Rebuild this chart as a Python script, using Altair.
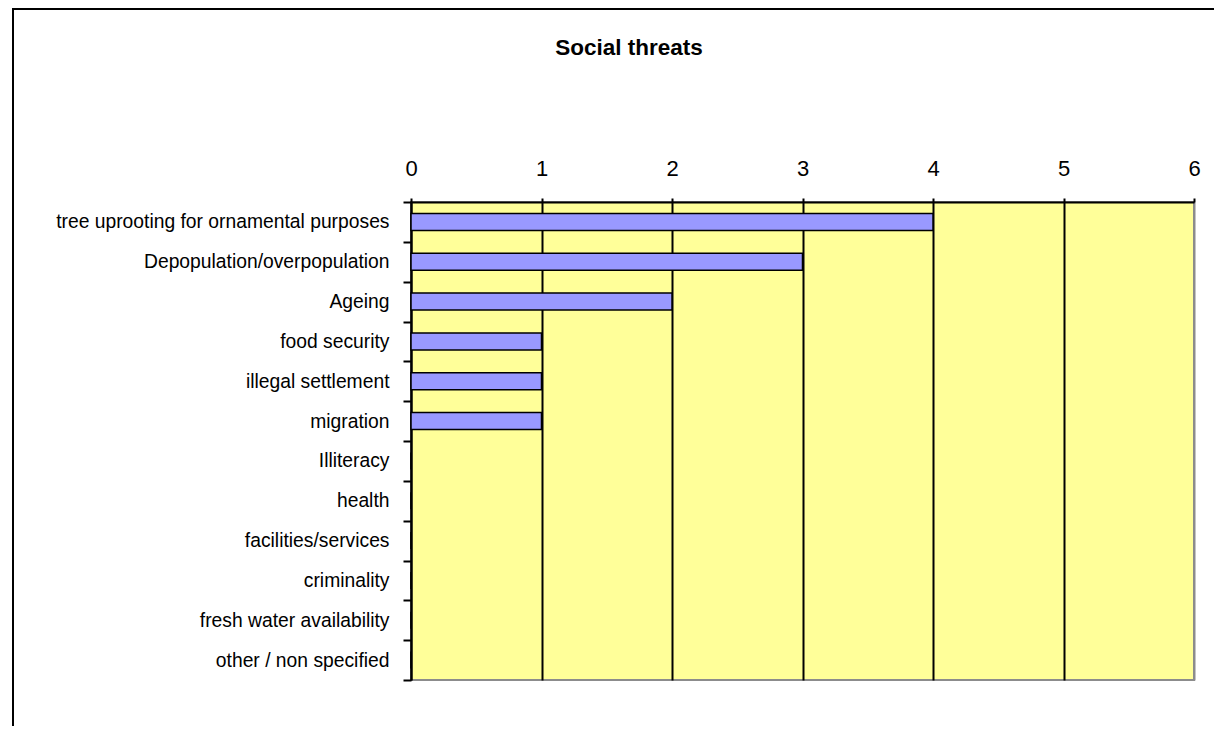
import altair as alt
import pandas as pd

categories = [
    "tree uprooting for ornamental purposes",
    "Depopulation/overpopulation",
    "Ageing",
    "food security",
    "illegal settlement",
    "migration",
    "Illiteracy",
    "health",
    "facilities/services",
    "criminality",
    "fresh water availability",
    "other / non specified",
]
values = [4, 3, 2, 1, 1, 1, 0, 0, 0, 0, 0, 0]
x_ticks = [0, 1, 2, 3, 4, 5, 6]
chart_title = "Social threats"

df = pd.DataFrame({"threat": categories, "count": values})

W, H = 783, 478
FONT = "Liberation Sans"

bars = alt.Chart(df).mark_bar(
    color="#9999FF", stroke="#000000", strokeWidth=1.5,
    height=alt.RelativeBandSize(0.425),
).encode(
    x=alt.X(
        "count:Q",
        scale=alt.Scale(domain=[0, 6], nice=False),
        axis=alt.Axis(
            orient="top", values=x_ticks, format="d", title=None,
            grid=True,
            gridColor={"condition": {"test": "datum.value === 6", "value": "#8c8c8c"}, "value": "#000000"},
            gridWidth=2,
            domainColor="#000000", domainWidth=2,
            tickColor="#000000", tickWidth=2, tickSize=4,
            labelFontSize=22, labelPadding=18, labelFont=FONT, labelColor="#000000",
            labelFlush=False,
        ),
    ),
    y=alt.Y(
        "threat:N",
        sort=categories,
        scale=alt.Scale(paddingInner=0, paddingOuter=0),
        axis=alt.Axis(
            title=None, tickBand="extent", ticks=True, tickSize=8, tickWidth=2,
            tickColor="#000000", domainColor="#000000", domainWidth=2,
            labelFontSize=19.3, labelPadding=14, labelLimit=0, labelFont=FONT,
            labelColor="#000000", grid=False,
        ),
    ),
)

frame = alt.Chart(pd.DataFrame({"f": [0]})).mark_rect(
    fillOpacity=0, stroke="#000000", strokeWidth=2
).encode(
    x=alt.value(-398), x2=alt.value(900), y=alt.value(-193), y2=alt.value(700)
)

title = alt.Chart(pd.DataFrame({"t": [chart_title]})).mark_text(
    font=FONT, fontSize=22.5, fontWeight="bold", color="#000000",
    align="center", baseline="middle",
).encode(
    text="t:N", x=alt.value(218), y=alt.value(-154)
)

chart = alt.layer(frame, bars, title).properties(
    width=W,
    height=H,
    padding={"left": 403, "top": 194, "right": 20, "bottom": 46},
    autosize=alt.AutoSizeParams(type="none"),
    background="#ffffff",
).configure_view(fill="#FFFF99", stroke="#8c8c8c", strokeWidth=2)

chart.save("out.html", embed_options={"renderer": "svg", "actions": False})
